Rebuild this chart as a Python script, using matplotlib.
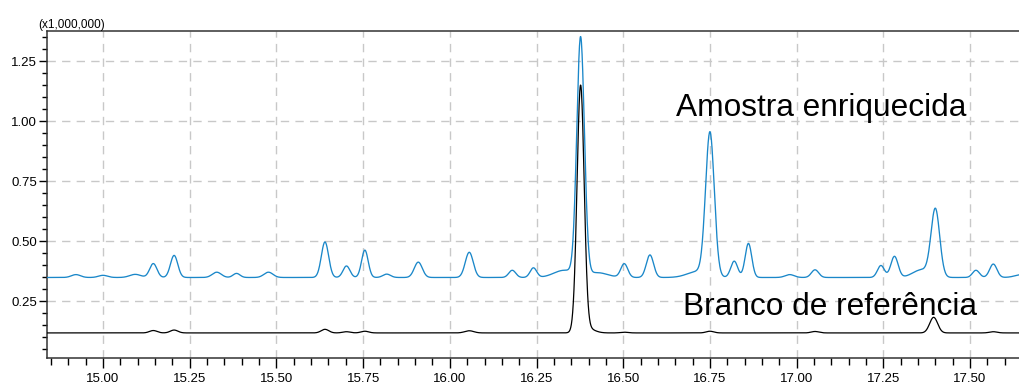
import matplotlib

matplotlib.use("Agg")
import matplotlib.pyplot as plt
import numpy as np
from matplotlib.ticker import FormatStrFormatter, MultipleLocator

plt.rcParams.update(
    {
        "font.family": ["Liberation Sans", "DejaVu Sans"],
        "font.size": 9.5,
    }
)

PX = 72 / 100  # points per pixel at dpi 100

# retention time window (min)
TIME_START, TIME_END = 14.84, 17.65

# spiked sample (blue): baseline + peak table (rt, height above baseline, sigma)
SAMPLE_BASELINE = 0.348
SAMPLE_RT = [14.922, 15.000, 15.093, 15.145, 15.205, 15.328, 15.385, 15.477,
             15.640, 15.702, 15.755, 15.818, 15.909, 16.056, 16.180, 16.241,
             16.330, 16.377, 16.425, 16.503, 16.577, 16.715, 16.750, 16.820,
             16.861, 16.980, 17.053, 17.243, 17.282, 17.360, 17.400, 17.517,
             17.567, 17.650]
SAMPLE_HEIGHT = [0.012, 0.009, 0.013, 0.058, 0.092, 0.022, 0.017, 0.022,
                 0.148, 0.048, 0.114, 0.014, 0.064, 0.105, 0.030, 0.040,
                 0.030, 0.990, 0.020, 0.057, 0.094, 0.025, 0.595, 0.068,
                 0.142, 0.012, 0.032, 0.050, 0.088, 0.032, 0.280, 0.030,
                 0.056, 0.012]
SAMPLE_SIGMA = [0.013, 0.013, 0.016, 0.0105, 0.0105, 0.013, 0.010, 0.013,
                0.0105, 0.010, 0.0095, 0.011, 0.0115, 0.0115, 0.010, 0.0095,
                0.030, 0.011, 0.030, 0.010, 0.0105, 0.030, 0.0125, 0.010,
                0.0095, 0.013, 0.0105, 0.010, 0.0105, 0.025, 0.0125, 0.010,
                0.0105, 0.020]

# reference blank (black)
BLANK_BASELINE = 0.117
BLANK_RT = [15.145, 15.205, 15.640, 15.702, 15.755, 16.056, 16.377, 16.395,
            16.503, 16.750, 17.053, 17.395, 17.567]
BLANK_HEIGHT = [0.010, 0.012, 0.015, 0.005, 0.007, 0.009, 1.020, 0.020,
                0.003, 0.007, 0.006, 0.065, 0.005]
BLANK_SIGMA = [0.011, 0.011, 0.011, 0.011, 0.011, 0.013, 0.0102, 0.020,
               0.011, 0.011, 0.011, 0.0115, 0.011]


def trace(t, baseline, rts, heights, sigmas):
    y = np.full_like(t, baseline)
    for rt, h, s in zip(rts, heights, sigmas):
        y += h * np.exp(-0.5 * ((t - rt) / s) ** 2)
    return y


t = np.linspace(TIME_START, TIME_END, 3000)
sample = trace(t, SAMPLE_BASELINE, SAMPLE_RT, SAMPLE_HEIGHT, SAMPLE_SIGMA)
blank = trace(t, BLANK_BASELINE, BLANK_RT, BLANK_HEIGHT, BLANK_SIGMA)

fig = plt.figure(figsize=(10.2, 3.86), dpi=100)
ax = fig.add_axes([47 / 1020, 28 / 386, 1 - 47 / 1020, (358 - 31) / 386])

ax.plot(t, sample, color="#1a87c9", linewidth=0.95, zorder=3)
ax.plot(t, blank, color="black", linewidth=0.9, zorder=3)

ax.set_xlim(14.8385, 17.644)
ax.set_ylim(0.0125, 1.375)

ax.xaxis.set_major_locator(MultipleLocator(0.25))
ax.xaxis.set_minor_locator(MultipleLocator(0.05))
ax.yaxis.set_major_locator(MultipleLocator(0.25))
ax.yaxis.set_minor_locator(MultipleLocator(0.05))
ax.xaxis.set_major_formatter(FormatStrFormatter("%.2f"))
ax.yaxis.set_major_formatter(FormatStrFormatter("%.2f"))
ax.tick_params(axis="x", which="major", length=10 * PX, width=1, pad=5 * PX)
ax.tick_params(axis="x", which="minor", length=7 * PX, width=1)
ax.tick_params(axis="y", which="major", length=8 * PX, width=1, pad=2 * PX)
ax.tick_params(axis="y", which="minor", length=5 * PX, width=1)
ax.set_yticks([0.25, 0.50, 0.75, 1.00, 1.25])

ax.grid(True, which="major", color="#c8c8c8", linestyle=(0, (6, 4.5)), linewidth=1)
ax.set_axisbelow(True)
ax.spines["right"].set_visible(False)
for side in ("left", "bottom", "top"):
    ax.spines[side].set_color("#333333")
    ax.spines[side].set_linewidth(1.1)

ax.text(16.652, 1.02, "Amostra enriquecida", fontsize=22.8, va="baseline", ha="left")
ax.text(16.672, 0.19, "Branco de referência", fontsize=22.8, va="baseline", ha="left")
fig.text(38 / 1020, 1 - 28 / 386, "(x1,000,000)", fontsize=8.5, va="baseline", ha="left")

fig.savefig("out.png", dpi=100)
